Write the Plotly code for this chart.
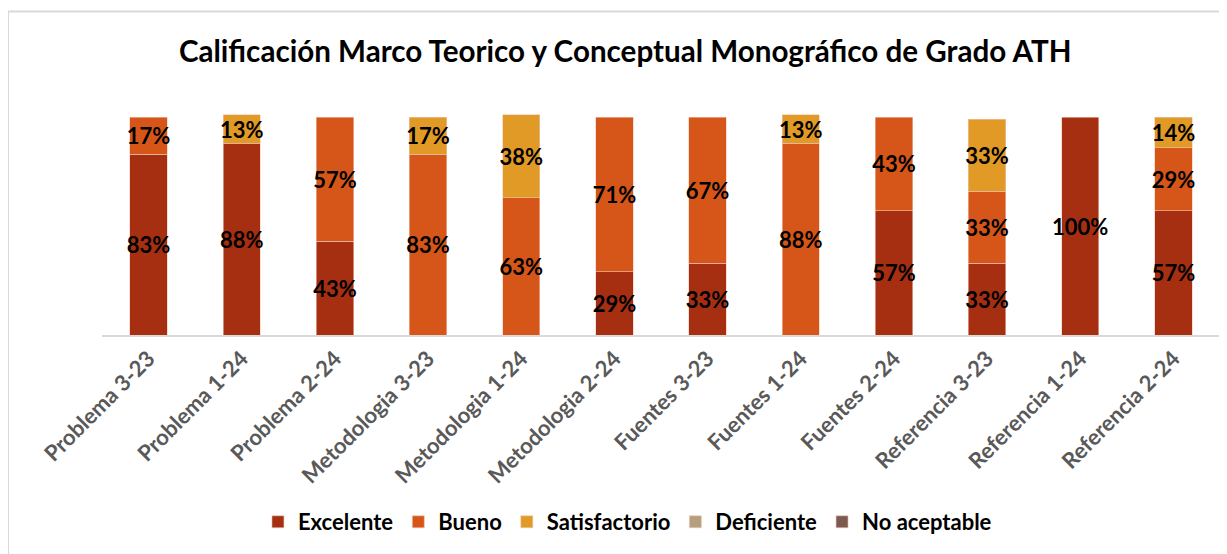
import plotly.graph_objects as go

categories = ["Problema 3-23", "Problema 1-24", "Problema 2-24", "Metodologia 3-23",
              "Metodologia 1-24", "Metodologia 2-24", "Fuentes 3-23", "Fuentes 1-24",
              "Fuentes 2-24", "Referencia 3-23", "Referencia 1-24", "Referencia 2-24"]

excelente = [83, 88, 43, None, None, 29, 33, None, 57, 33, 100, 57]
bueno = [17, None, 57, 83, 63, 71, 67, 88, 43, 33, None, 29]
satisfactorio = [None, 13, None, 17, 38, None, None, 13, None, 33, None, 14]
deficiente = [None] * 12
no_aceptable = [None] * 12

series = [
    ("Excelente", excelente, "#A52F10"),
    ("Bueno", bueno, "#D55618"),
    ("Satisfactorio", satisfactorio, "#E29A27"),
    ("Deficiente", deficiente, "#B49F7E"),
    ("No aceptable", no_aceptable, "#7B5B50"),
]

FONT = "Lato"

fig = go.Figure()
for name, vals, color in series:
    fig.add_trace(go.Bar(
        name=name, x=categories, y=vals,
        marker=dict(color=color, line=dict(color="#F2C7B5", width=0.6)),
        text=[f"{v}%" if v is not None else "" for v in vals],
        textposition="inside", insidetextanchor="middle", textangle=0,
        constraintext="none",
        textfont=dict(family=FONT, size=22, color="black", weight="bold"),
        hoverinfo="skip",
    ))

# the page body adds an 8px offset; margins compensate for it
fig.update_layout(
    barmode="stack",
    bargap=0.6,
    width=1227, height=554,
    margin=dict(l=94, r=15, t=106, b=227),
    paper_bgcolor="white", plot_bgcolor="white",
    title=dict(text="Calificación Marco Teorico y Conceptual Monográfico de Grado ATH",
               x=0.503, xanchor="center", y=0.921, yanchor="middle",
               font=dict(family=FONT, size=29.6, color="black", weight="bold")),
    legend=dict(orientation="h", x=0.47, xanchor="center", y=-0.846, yanchor="middle",
                font=dict(family=FONT, size=22, color="black", weight="bold"),
                itemwidth=30, traceorder="normal"),
    showlegend=True,
)
fig.update_xaxes(showline=True, linecolor="#D9D9D9", linewidth=2, tickangle=-45,
                 ticks="", tickfont=dict(family=FONT, size=22, color="#595959", weight="bold"),
                 fixedrange=True)
fig.update_yaxes(range=[0, 101.4], visible=False, showgrid=False, fixedrange=True)

fig.add_shape(type="rect", xref="paper", yref="paper",
              x0=(0 - 94) / 1118, x1=1.05, y0=-1.2, y1=(327 - 3.5) / 221,
              line=dict(color="#D9D9D9", width=2), fillcolor="rgba(0,0,0,0)", layer="below")

fig.write_html("out.html")
